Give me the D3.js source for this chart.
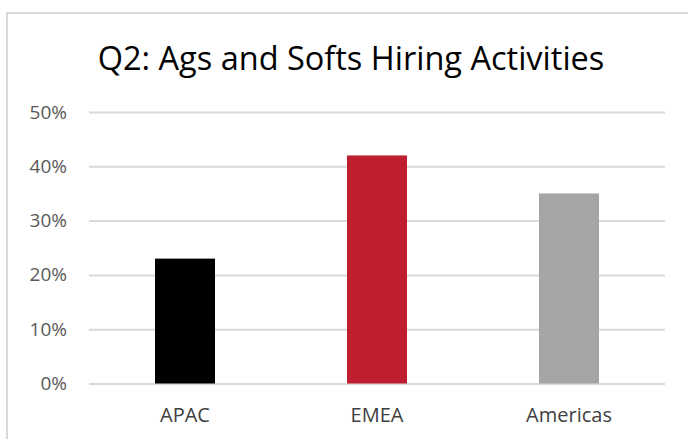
<!DOCTYPE html>
<html>
<head>
<meta charset="utf-8">
<script src="https://cdn.jsdelivr.net/npm/d3@7"></script>
<style>
  html, body { margin: 0; padding: 0; background: #fff; }
  svg { display: block; }
  svg text { font-family: "Open Sans", sans-serif; font-variant-ligatures: none; }
</style>
</head>
<body>
<svg id="chart" width="688" height="439"></svg>
<script>
// data
let regions = ['APAC', 'EMEA', 'Americas'];
let shares = [0.23, 0.42, 0.35];
let barColors = ['#000000', '#be1e2d', '#a5a5a5'];
let yTicks = [0, 0.1, 0.2, 0.3, 0.4, 0.5];
let title = 'Q2: Ags and Softs Hiring Activities';

let svg = d3.select('#chart');

let plot = {
  left: 89,
  right: 665,
  top: 112,
  bottom: 383.5
};

// chart frame (cut off on the right and bottom like the reference)
svg.append('rect')
  .attr('x', 7)
  .attr('y', 13)
  .attr('width', 760)
  .attr('height', 520)
  .attr('fill', '#fff')
  .attr('stroke', '#d9d9d9')
  .attr('stroke-width', 2);

let xScale = d3.scaleBand()
  .domain(regions)
  .range([plot.left, plot.right])
  .paddingInner(0.6875)
  .paddingOuter(0.34375);

let yScale = d3.scaleLinear()
  .domain([0, 0.5])
  .range([plot.bottom, plot.top]);

// gridlines + y labels
let yAxis = d3.axisLeft(yScale)
  .tickValues(yTicks)
  .tickFormat(d3.format('.0%'))
  .tickSize(-(plot.right - plot.left))
  .tickPadding(22);

let yg = svg.append('g')
  .attr('transform', `translate(${plot.left},0)`)
  .call(yAxis)
  .attr('font-family', null);

yg.select('.domain').remove();
yg.selectAll('.tick line')
  .attr('stroke', '#d9d9d9')
  .attr('stroke-width', 2);
yg.selectAll('.tick text')
  .attr('fill', '#595959')
  .style('font-size', '19px');

// bars
svg.selectAll('.bar')
  .data(regions)
  .enter()
  .append('rect')
  .attr('class', 'bar')
  .attr('x', d => xScale(d))
  .attr('width', xScale.bandwidth())
  .attr('y', (d, i) => yScale(shares[i]))
  .attr('height', (d, i) => yScale(0) - yScale(shares[i]))
  .attr('fill', (d, i) => barColors[i]);

// x labels
let xAxis = d3.axisBottom(xScale)
  .tickSize(0)
  .tickPadding(24);

let xg = svg.append('g')
  .attr('transform', `translate(0,${plot.bottom})`)
  .call(xAxis)
  .attr('font-family', null);

xg.select('.domain').remove();
xg.selectAll('.tick text')
  .attr('fill', '#404040')
  .style('font-size', '20px');

// title
svg.append('text')
  .attr('x', 351)
  .attr('y', 70)
  .attr('text-anchor', 'middle')
  .attr('fill', '#000')
  .style('font-size', '32.5px')
  .text(title);
</script>
</body>
</html>
